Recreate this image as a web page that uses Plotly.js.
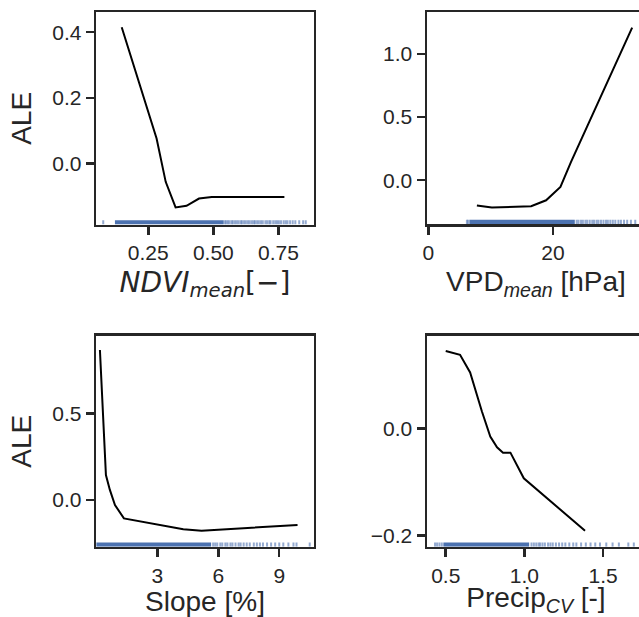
<!DOCTYPE html>
<html>
<head>
<meta charset="utf-8">
<script src="https://cdn.plot.ly/plotly-3.0.1.min.js"></script>
<style>
html, body { margin: 0; padding: 0; overflow: hidden; background: #fff; }
#chart { width: 660px; height: 617px; }
</style>
</head>
<body>
<div id="chart"></div>
<script>
// ---- ALE curves ----
const ndviX   = [0.148, 0.205, 0.245, 0.27, 0.282, 0.317, 0.355, 0.397, 0.445, 0.494, 0.60, 0.773];
const ndviAle = [0.415, 0.27, 0.17, 0.112, 0.076, -0.056, -0.134, -0.129, -0.107, -0.102, -0.102, -0.102];

const vpdX   = [7.8, 10.2, 16.5, 18.9, 21.2, 22.9, 32.7];
const vpdAle = [-0.201, -0.217, -0.206, -0.159, -0.053, 0.145, 1.209];

const slopeX   = [0.18, 0.475, 0.67, 0.92, 1.36, 4.28, 5.18, 9.9];
const slopeAle = [0.865, 0.144, 0.058, -0.029, -0.106, -0.169, -0.177, -0.144];

const precipX   = [0.5, 0.591, 0.655, 0.698, 0.73, 0.783, 0.826, 0.864, 0.911, 0.996, 1.385];
const precipAle = [0.145, 0.138, 0.105, 0.063, 0.032, -0.015, -0.035, -0.045, -0.045, -0.093, -0.191];

// ---- rug (data distribution) ----
const ndviRugCore = [0.122, 0.54];
const ndviRugTail = [0.077, 0.545, 0.55, 0.556, 0.562, 0.57, 0.575, 0.583, 0.59, 0.597, 0.605, 0.61, 0.618,
  0.625, 0.633, 0.64, 0.648, 0.655, 0.66, 0.668, 0.675, 0.683, 0.69, 0.7, 0.707, 0.715, 0.72, 0.73, 0.738,
  0.745, 0.752, 0.76, 0.77, 0.778, 0.785, 0.795, 0.805, 0.815, 0.83, 0.845, 0.855];

const vpdRugCore = [6.6, 23.5];
const vpdRugTail = [6.2, 6.4, 23.8, 24.1, 24.5, 24.8, 25.2, 25.5, 25.9, 26.3, 26.6, 27.0, 27.3, 27.7, 28.1,
  28.5, 28.8, 29.2, 29.6, 30.0, 30.5, 30.9, 31.4, 31.9, 32.5, 33.2];

const slopeRugCore = [0.0, 5.65];
const slopeRugTail = [5.75, 5.85, 5.95, 6.1, 6.2, 6.35, 6.45, 6.6, 6.7, 6.85, 7.0, 7.1, 7.25, 7.4, 7.55,
  7.75, 7.9, 8.05, 8.2, 8.4, 8.6, 8.8, 9.0, 9.2, 9.45, 9.7, 9.85, 10.5];

const precipRugCore = [0.485, 1.03];
const precipRugTail = [0.432, 0.445, 0.46, 0.475, 1.045, 1.06, 1.075, 1.09, 1.1, 1.115, 1.13, 1.15, 1.165,
  1.18, 1.2, 1.22, 1.24, 1.26, 1.285, 1.31, 1.33, 1.36, 1.39, 1.42, 1.45, 1.48, 1.52, 1.56, 1.6, 1.66, 1.695];

// ---- axis titles & ticks ----
const xTitles = [
  '<span style="font-family:\'DejaVu Sans\'"><i>NDVI</i><sub><i>mean</i></sub>[−]</span>',
  'VPD<sub><i>mean</i></sub> [hPa]',
  'Slope [%]',
  'Precip<sub><i>CV</i></sub> [-]'
];
const yTitle = 'ALE';

// ---- build ----
const W = 660, H = 617;
const INK = '#262626';
const RUG = '#4c72b0';
const RUG_H = 0.02;
const FONT = '"Liberation Sans", Arial, sans-serif';

const panels = [
  {x: ndviX, y: ndviAle, core: ndviRugCore, tail: ndviRugTail,
   px: [96.2, 313.8], py: [12.2, 224.5], xr: [0.05, 0.886], yr: [-0.186, 0.461],
   xt: {tickvals: [0.25, 0.5, 0.75], tickformat: '.2f'}, yt: {tickvals: [0, 0.2, 0.4], tickformat: '.1f'}, ytitle: true},
  {x: vpdX, y: vpdAle, core: vpdRugCore, tail: vpdRugTail,
   px: [427, 645], py: [12.2, 224], xr: [-0.2, 34.76], yr: [-0.347, 1.331],
   xt: {tickvals: [0, 20], tickformat: 'd'}, yt: {tickvals: [0, 0.5, 1.0], tickformat: '.1f'}, ytitle: false},
  {x: slopeX, y: slopeAle, core: slopeRugCore, tail: slopeRugTail,
   px: [96.2, 313.8], py: [335.5, 546.8], xr: [-0.003, 10.7], yr: [-0.27, 0.949],
   xt: {tickvals: [3, 6, 9], tickformat: 'd'}, yt: {tickvals: [0, 0.5], tickformat: '.1f'}, ytitle: true},
  {x: precipX, y: precipAle, core: precipRugCore, tail: precipRugTail,
   px: [427, 645], py: [335.5, 546.8], xr: [0.381, 1.766], yr: [-0.221, 0.174],
   xt: {tickvals: [0.5, 1.0, 1.5], tickformat: '.1f'}, yt: {tickvals: [-0.2, 0], tickformat: '.1f'}, ytitle: false}
];

const traces = [];
const layout = {
  width: W, height: H,
  margin: {l: 0, r: 0, t: 0, b: 0},
  paper_bgcolor: '#ffffff', plot_bgcolor: '#ffffff',
  showlegend: false,
  font: {family: FONT, color: INK, size: 21}
};

panels.forEach((p, i) => {
  const n = i + 1;
  const xa = n === 1 ? 'x' : 'x' + n;
  const ya = n === 1 ? 'y' : 'y' + n;
  const rugY = 'y' + (n + 4);
  const xKey = n === 1 ? 'xaxis' : 'xaxis' + n;
  const yKey = n === 1 ? 'yaxis' : 'yaxis' + n;

  // rug core band
  traces.push({
    type: 'scatter', mode: 'lines', xaxis: xa, yaxis: rugY,
    x: [p.core[0], p.core[1], p.core[1], p.core[0], p.core[0]],
    y: [0, 0, RUG_H, RUG_H, 0],
    fill: 'toself', fillcolor: RUG, line: {width: 0, color: RUG}, hoverinfo: 'skip'
  });
  // rug individual ticks
  const tx = [], ty = [];
  p.tail.forEach(v => { tx.push(v, v, null); ty.push(0, RUG_H, null); });
  traces.push({
    type: 'scatter', mode: 'lines', xaxis: xa, yaxis: rugY,
    x: tx, y: ty, line: {width: 2, color: 'rgba(76,114,176,0.6)'}, hoverinfo: 'skip'
  });
  // ALE curve
  traces.push({
    type: 'scatter', mode: 'lines', xaxis: xa, yaxis: ya,
    x: p.x, y: p.y, line: {color: '#000000', width: 2}, hoverinfo: 'skip'
  });

  const common = {
    showline: true, mirror: true, linecolor: INK, linewidth: 2.5,
    showgrid: false, zeroline: false,
    ticks: 'outside', ticklen: 8, tickwidth: 2.5, tickcolor: INK,
    tickfont: {size: 21, color: INK, family: FONT},
    fixedrange: true
  };
  layout[xKey] = Object.assign({}, common, {
    domain: [p.px[0] / W, p.px[1] / W], anchor: ya, range: p.xr,
    tickmode: 'array', tickvals: p.xt.tickvals, tickformat: p.xt.tickformat,
    title: {text: xTitles[i], font: {size: 28, color: INK, family: FONT}, standoff: 9}
  });
  const yax = Object.assign({}, common, {
    domain: [1 - p.py[1] / H, 1 - p.py[0] / H], anchor: xa, range: p.yr,
    tickmode: 'array', tickvals: p.yt.tickvals, tickformat: p.yt.tickformat
  });
  if (p.ytitle) {
    yax.title = {text: yTitle, font: {size: 28, color: INK, family: FONT}, standoff: 13};
  }
  layout[yKey] = yax;
  layout['yaxis' + (n + 4)] = {
    overlaying: ya, anchor: xa, range: [0, 1], visible: false, fixedrange: true
  };
});

Plotly.newPlot('chart', traces, layout, {staticPlot: true, displayModeBar: false});
</script>
</body>
</html>
